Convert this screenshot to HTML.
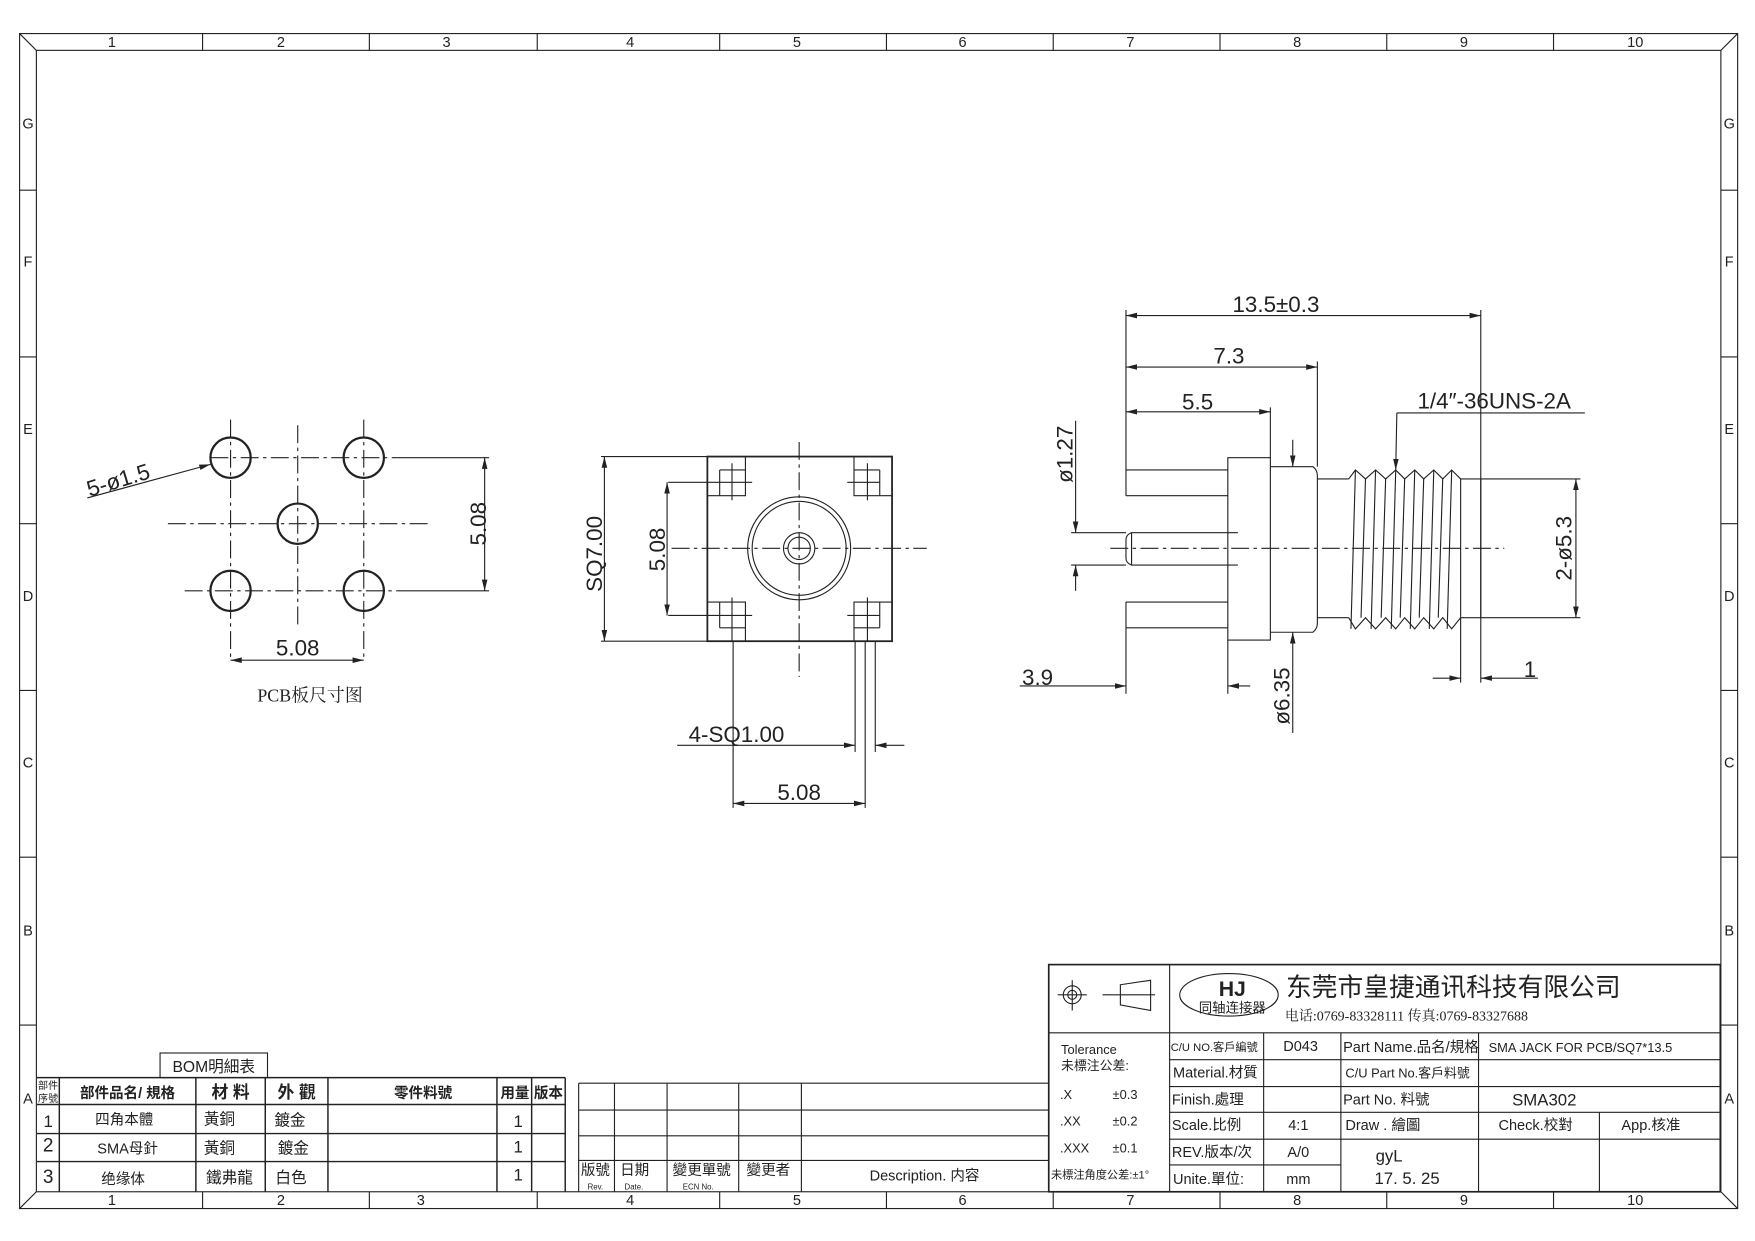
<!DOCTYPE html>
<html><head><meta charset="utf-8"><style>
html,body{margin:0;padding:0;background:#fff}
svg{display:block}
text{font-family:"Liberation Sans","Noto Sans CJK SC",sans-serif;fill:#222}
.s{font-family:"Liberation Serif","Noto Serif CJK SC","Noto Sans CJK SC",serif}
</style></head><body>
<svg width="1755" height="1241" viewBox="0 0 1568 1109" preserveAspectRatio="none" xmlns="http://www.w3.org/2000/svg">
<defs>
<marker id="a" viewBox="0 0 10 6" refX="10" refY="3" markerWidth="10" markerHeight="6" markerUnits="userSpaceOnUse" orient="auto-start-reverse"><path d="M0,0.5 L10,3 L0,5.5 z" fill="#222"/></marker>
</defs>
<g fill="none" stroke="#222" stroke-width="1">
<!-- frame -->
<rect x="17.5" y="30" width="1535" height="1050"/>
<rect x="32.5" y="45" width="1505" height="1020"/>
<line x1="17.5" y1="30" x2="32.5" y2="45"/><line x1="1552.5" y1="30" x2="1537.5" y2="45"/>
<line x1="17.5" y1="1080" x2="32.5" y2="1065"/><line x1="1552.5" y1="1080" x2="1537.5" y2="1065"/>
<path d="M181,30V45M330,30V45M480,30V45M643,30V45M792,30V45M941,30V45M1090,30V45M1239,30V45M1388,30V45"/>
<path d="M181,1065V1080M330,1065V1080M480,1065V1080M643,1065V1080M792,1065V1080M941,1065V1080M1090,1065V1080M1239,1065V1080M1388,1065V1080"/>
<path d="M17.5,170H32.5M17.5,319H32.5M17.5,468H32.5M17.5,617H32.5M17.5,766H32.5M17.5,916H32.5"/>
<path d="M1537.5,170H1552.5M1537.5,319H1552.5M1537.5,468H1552.5M1537.5,617H1552.5M1537.5,766H1552.5M1537.5,916H1552.5"/>
</g>
<g font-size="13" text-anchor="middle" fill="#333">
<text x="100" y="42">1</text><text x="251" y="42">2</text><text x="399" y="42">3</text><text x="563" y="42">4</text><text x="712" y="42">5</text><text x="860" y="42">6</text><text x="1010" y="42">7</text><text x="1159" y="42">8</text><text x="1308" y="42">9</text><text x="1461" y="42">10</text>
<text x="100" y="1077">1</text><text x="251" y="1077">2</text><text x="376" y="1077">3</text><text x="563" y="1077">4</text><text x="712" y="1077">5</text><text x="860" y="1077">6</text><text x="1010" y="1077">7</text><text x="1159" y="1077">8</text><text x="1308" y="1077">9</text><text x="1461" y="1077">10</text>
<text x="25" y="115">G</text><text x="25" y="238">F</text><text x="25" y="388">E</text><text x="25" y="537">D</text><text x="25" y="686">C</text><text x="25" y="836">B</text><text x="25" y="986">A</text>
<text x="1545" y="115">G</text><text x="1545" y="238">F</text><text x="1545" y="388">E</text><text x="1545" y="537">D</text><text x="1545" y="686">C</text><text x="1545" y="836">B</text><text x="1545" y="986">A</text>
</g>

<!-- PCB view -->
<g fill="none" stroke="#222" stroke-width="1">
<g stroke-dasharray="16 4 3 4">
<line x1="188" y1="409" x2="355" y2="409"/><line x1="150" y1="468" x2="385" y2="468"/><line x1="165" y1="528" x2="355" y2="528"/>
<line x1="206" y1="375" x2="206" y2="590"/><line x1="266" y1="380" x2="266" y2="560"/><line x1="325" y1="375" x2="325" y2="590"/>
</g>
<g stroke-width="2">
<ellipse cx="206" cy="409" rx="18" ry="18"/><ellipse cx="325" cy="409" rx="18" ry="18"/><ellipse cx="266" cy="468" rx="18" ry="18"/><ellipse cx="206" cy="528" rx="18" ry="18"/><ellipse cx="325" cy="528" rx="18" ry="18"/>
</g>
<line x1="355" y1="409" x2="437" y2="409"/><line x1="355" y1="528" x2="437" y2="528"/>
<line x1="433" y1="409" x2="433" y2="528" marker-start="url(#a)" marker-end="url(#a)"/>
<line x1="206" y1="590" x2="325" y2="590" marker-start="url(#a)" marker-end="url(#a)"/>
<line x1="78" y1="445" x2="188" y2="415" marker-end="url(#a)"/>
</g>
<g font-size="20" fill="#333">
<text x="0" y="0" transform="translate(434,468) rotate(-90)" text-anchor="middle">5.08</text>
<text x="266" y="586" text-anchor="middle">5.08</text>
<text x="0" y="0" transform="translate(80,444) rotate(-17)">5-ø1.5</text>
</g>
<text x="277" y="627" font-size="16" text-anchor="middle" class="s">PCB板尺寸图</text>

<!-- Front view -->
<g fill="none" stroke="#222" stroke-width="1">
<rect x="632" y="408" width="165" height="165" stroke-width="1.6"/>
<g stroke-dasharray="16 4 3 4"><line x1="600" y1="490" x2="828" y2="490"/><line x1="714" y1="395" x2="714" y2="605"/></g>
<circle cx="714" cy="490" r="46"/><circle cx="714" cy="490" r="42"/><circle cx="714" cy="490" r="14"/><circle cx="714" cy="490" r="10"/>
<path d="M632,443H666V408M643,420H666M643,420V443M643,431H672M654,414V447"/>
<path d="M797,443H763V408M786,420H763M786,420V443M757,431H786M775,414V447"/>
<path d="M632,538H666V573M643,561H666M643,538V561M597,550H672M654,534V573"/>
<path d="M797,538H763V573M786,561H763M786,538V561M757,550H786M775,534V573"/>
<line x1="597" y1="431" x2="643" y2="431"/>
<line x1="537" y1="408" x2="632" y2="408"/><line x1="537" y1="573" x2="632" y2="573"/>
<line x1="540" y1="408" x2="540" y2="573" marker-start="url(#a)" marker-end="url(#a)"/>
<line x1="596" y1="431" x2="596" y2="550" marker-start="url(#a)" marker-end="url(#a)"/>
<line x1="655" y1="573" x2="655" y2="722"/><line x1="764" y1="573" x2="764" y2="672"/><line x1="773" y1="573" x2="773" y2="722"/><line x1="782" y1="573" x2="782" y2="672"/>
<line x1="605" y1="666" x2="764" y2="666" marker-end="url(#a)"/>
<line x1="808" y1="666" x2="782" y2="666" marker-end="url(#a)"/>
<line x1="655" y1="718" x2="773" y2="718" marker-start="url(#a)" marker-end="url(#a)"/>
</g>
<g font-size="20" fill="#333">
<text transform="translate(538,495) rotate(-90)" text-anchor="middle">SQ7.00</text>
<text transform="translate(594,491) rotate(-90)" text-anchor="middle">5.08</text>
<text x="658" y="663" text-anchor="middle">4-SQ1.00</text>
<text x="714" y="715" text-anchor="middle">5.08</text>
</g>

<!-- Side view -->
<g fill="none" stroke="#222" stroke-width="1">
<path d="M1006,420H1097M1006,443H1097M1006,538H1097M1006,561H1097M1006,420V443M1006,538V561"/>
<path d="M1106,476H1011Q1006,478 1006,482V499Q1006,503 1011,505H1106"/>
<line x1="1011" y1="476" x2="1011" y2="505"/>
<rect x="1097" y="409" width="38" height="163"/>
<path d="M1135,417H1173Q1177,420 1177,425V557Q1177,562 1173,565H1135"/>
<path d="M1177,428H1205M1177,552H1205"/>
<path d="M1205,428L1211,420L1220,428L1229,420L1238,428L1247,420L1255,428L1264,420L1272,428L1281,420L1289,428L1297,420L1305,428"/>
<path d="M1205,552L1211,562L1220,552L1229,562L1238,552L1247,562L1255,552L1264,562L1272,552L1281,562L1289,552L1297,562L1305,552"/>
<path d="M1211,420L1207,562M1229,420L1225,562M1247,420L1243,562M1264,420L1260,562M1281,420L1277,562M1297,420L1293,562M1220,428L1216,552M1238,428L1234,552M1255,428L1251,552M1272,428L1268,552M1289,428L1285,552"/>
<rect x="1305" y="428" width="18" height="124"/>
<path d="M1323,428H1412M1323,552H1412"/>
<line x1="992" y1="490" x2="1344" y2="490" stroke-dasharray="16 4 3 4"/>
<!-- dims -->
<line x1="1006" y1="277" x2="1006" y2="420"/><line x1="1323" y1="277" x2="1323" y2="610"/>
<line x1="1177" y1="323" x2="1177" y2="417"/><line x1="1135" y1="364" x2="1135" y2="409"/>
<line x1="1006" y1="282" x2="1323" y2="282" marker-start="url(#a)" marker-end="url(#a)"/>
<line x1="1006" y1="328" x2="1177" y2="328" marker-start="url(#a)" marker-end="url(#a)"/>
<line x1="1006" y1="368" x2="1135" y2="368" marker-start="url(#a)" marker-end="url(#a)"/>
<path d="M1416,369H1248"/><line x1="1248" y1="369" x2="1247" y2="420" marker-end="url(#a)"/>
<line x1="961" y1="376" x2="961" y2="476" marker-end="url(#a)"/>
<line x1="961" y1="528" x2="961" y2="505" marker-end="url(#a)"/>
<path d="M957,476H1006M957,505H1006"/>
<line x1="1155" y1="393" x2="1155" y2="417" marker-end="url(#a)"/>
<line x1="1155" y1="655" x2="1155" y2="565" marker-end="url(#a)"/>
<line x1="911" y1="613" x2="1006" y2="613" marker-end="url(#a)"/>
<line x1="1006" y1="561" x2="1006" y2="620"/><line x1="1097" y1="572" x2="1097" y2="620"/>
<line x1="1117" y1="613" x2="1097" y2="613" marker-end="url(#a)"/>
<line x1="1305" y1="552" x2="1305" y2="610"/>
<line x1="1280" y1="606" x2="1305" y2="606" marker-end="url(#a)"/>
<line x1="1374" y1="606" x2="1323" y2="606" marker-end="url(#a)"/>
<line x1="1408" y1="428" x2="1408" y2="552" marker-start="url(#a)" marker-end="url(#a)"/>
</g>
<g font-size="20" fill="#333">
<text x="1140" y="279" text-anchor="middle">13.5±0.3</text>
<text x="1098" y="325" text-anchor="middle">7.3</text>
<text x="1070" y="366" text-anchor="middle">5.5</text>
<text x="1335" y="365" text-anchor="middle">1/4″-36UNS-2A</text>
<text transform="translate(958,406) rotate(-90)" text-anchor="middle">ø1.27</text>
<text transform="translate(1152,622) rotate(-90)" text-anchor="middle">ø6.35</text>
<text x="927" y="612" text-anchor="middle">3.9</text>
<text x="1367" y="605" text-anchor="middle">1</text>
<text transform="translate(1404,490) rotate(-90)" text-anchor="middle">2-ø5.3</text>
</g>

<!-- Title block -->
<g fill="none" stroke="#222" stroke-width="1">
<rect x="937" y="862" width="600" height="203" stroke-width="1.5"/>
<line x1="937" y1="923" x2="1537" y2="923"/>
<line x1="1045" y1="862" x2="1045" y2="1065"/>
<line x1="1129" y1="923" x2="1129" y2="1065"/>
<line x1="1198" y1="923" x2="1198" y2="1065"/>
<line x1="1321" y1="923" x2="1321" y2="1065"/>
<line x1="1429" y1="994" x2="1429" y2="1065"/>
<path d="M1045,947H1537M1045,971H1537M1045,994H1537M1045,1018H1537M1045,1041H1198"/>
<circle cx="958" cy="889" r="8"/><circle cx="958" cy="889" r="4"/><path d="M945,889H971M958,876V903"/>
<path d="M985,889H1032M1001,880L1028,876V903L1001,898Z"/>
<ellipse cx="1098" cy="889" rx="44" ry="19"/>
<!-- revision table -->
<path d="M517,968H937M517,992H937M517,1015H937M517,1037H937M517,968V1065M549,968V1065M596,968V1065M660,968V1065M716,968V1065"/>
<!-- BOM -->
<rect x="143" y="941" width="96" height="22"/>
<path d="M33,963H505M33,987H505M33,1013H505M33,1038H505M53,963V1065M175,963V1065M237,963V1065M293,963V1065M444,963V1065M475,963V1065M505,963V1065" stroke-width="1.3"/>
</g>
<text x="1101" y="890" font-size="19" font-weight="bold" text-anchor="middle">HJ</text>
<text x="1101" y="905" font-size="12" text-anchor="middle">同轴连接器</text>
<text x="1149" y="890" font-size="23">东莞市皇捷通讯科技有限公司</text>
<text x="1148" y="912" font-size="12.5" class="s">电话:0769-83328111  传真:0769-83327688</text>
<g font-size="11.5" class="s">
<text x="948" y="942">Tolerance</text><text x="948" y="956">未標注公差:</text>
<text x="947" y="982">.X</text><text x="994" y="982">±0.3</text>
<text x="947" y="1006">.XX</text><text x="994" y="1006">±0.2</text>
<text x="947" y="1030">.XXX</text><text x="994" y="1030">±0.1</text>
<text x="939" y="1053" font-size="10">未標注角度公差:±1°</text>
<text x="1046" y="939" font-size="10">C/U NO.客戶編號</text>
<text x="1162" y="939" text-anchor="middle" font-size="13">D043</text>
<text x="1048" y="963" font-size="13">Material.材質</text>
<text x="1047" y="987" font-size="13">Finish.處理</text>
<text x="1047" y="1010" font-size="13">Scale.比例</text>
<text x="1160" y="1010" text-anchor="middle" font-size="13">4:1</text>
<text x="1047" y="1034" font-size="13">REV.版本/次</text>
<text x="1160" y="1034" text-anchor="middle" font-size="13">A/0</text>
<text x="1048" y="1058" font-size="13">Unite.單位:</text>
<text x="1160" y="1058" text-anchor="middle" font-size="13">mm</text>
<text x="1200" y="940" font-size="13">Part Name.品名/規格</text>
<text x="1330" y="940" font-size="11.5">SMA  JACK  FOR  PCB/SQ7*13.5</text>
<text x="1202" y="963" font-size="11.5">C/U Part  No.客戶料號</text>
<text x="1200" y="987" font-size="13">Part   No.   料號</text>
<text x="1351" y="988" font-size="15">SMA302</text>
<text x="1202" y="1010" font-size="13">Draw . 繪圖</text>
<text x="1372" y="1010" text-anchor="middle" font-size="13">Check.校對</text>
<text x="1475" y="1010" text-anchor="middle" font-size="13">App.核准</text>
<text x="1229" y="1038" font-size="15">gyL</text>
<text x="1228" y="1058" font-size="15">17. 5. 25</text>
</g>
<g class="s" font-size="13">
<text x="519" y="1050">版號</text><text x="525" y="1063" font-size="7">Rev.</text>
<text x="554" y="1050">日期</text><text x="558" y="1063" font-size="7">Date.</text>
<text x="601" y="1050">變更單號</text><text x="610" y="1063" font-size="7">ECN No.</text>
<text x="667" y="1050">變更者</text>
<text x="826" y="1055" text-anchor="middle">Description. 内容</text>
<text x="191" y="958" text-anchor="middle" font-size="14">BOM明細表</text>
<text x="34" y="973" font-size="9">部件</text><text x="34" y="985" font-size="9">序號</text>
<text x="114" y="981" text-anchor="middle" font-weight="bold">部件品名/ 規格</text>
<text x="206" y="981" text-anchor="middle" font-weight="bold" font-size="15">材 料</text>
<text x="265" y="981" text-anchor="middle" font-weight="bold" font-size="15">外 觀</text>
<text x="378" y="981" text-anchor="middle" font-weight="bold">零件料號</text>
<text x="460" y="981" text-anchor="middle" font-weight="bold">用量</text>
<text x="490" y="981" text-anchor="middle" font-weight="bold">版本</text>
<text x="43" y="1007" text-anchor="middle" font-size="15">1</text>
<text x="111" y="1005" text-anchor="middle">四角本體</text><text x="196" y="1005" text-anchor="middle" font-size="14">黃銅</text><text x="259" y="1006" text-anchor="middle" font-size="14">鍍金</text><text x="463" y="1007" text-anchor="middle" font-size="15">1</text>
<text x="43" y="1029" text-anchor="middle" font-size="17">2</text>
<text x="114" y="1031" text-anchor="middle">SMA母針</text><text x="196" y="1031" text-anchor="middle" font-size="14">黃銅</text><text x="262" y="1031" text-anchor="middle" font-size="14">鍍金</text><text x="463" y="1030" text-anchor="middle" font-size="15">1</text>
<text x="43" y="1057" text-anchor="middle" font-size="17">3</text>
<text x="110" y="1058" text-anchor="middle">绝缘体</text><text x="205" y="1057" text-anchor="middle" font-size="14">鐵弗龍</text><text x="260" y="1057" text-anchor="middle" font-size="14">白色</text><text x="463" y="1055" text-anchor="middle" font-size="15">1</text>
</g>
</svg>
</body></html>
